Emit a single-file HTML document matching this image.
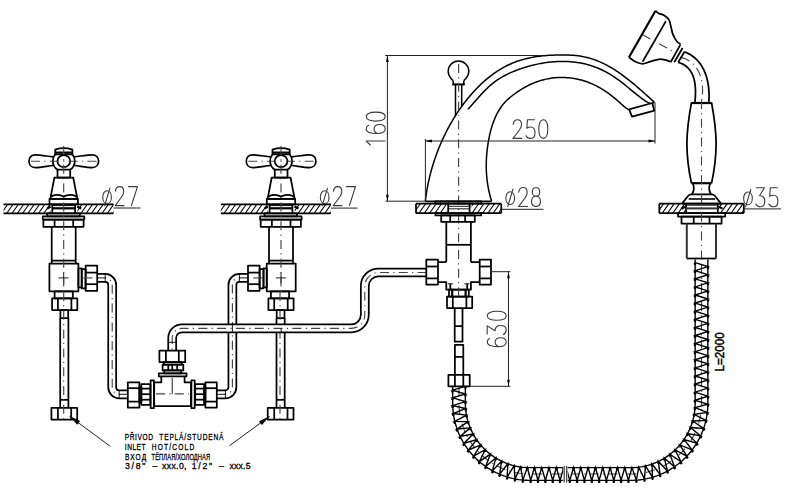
<!DOCTYPE html><html><head><meta charset="utf-8"><style>html,body{margin:0;padding:0;background:#fff}svg{display:block}</style></head><body><svg width="800" height="503" viewBox="0 0 800 503">
<style>.o{fill:none;stroke:#000;stroke-width:1.75;stroke-linejoin:round}.os{fill:none;stroke:#000;stroke-width:1.5}.gp{fill:none;stroke:#333;stroke-width:2}.ok{fill:none;stroke:#000;stroke-width:2.2}.t{fill:none;stroke:#000;stroke-width:0.9}.d{fill:none;stroke:#222;stroke-width:1}.h{fill:none;stroke:#000;stroke-width:1.1}.c{fill:none;stroke:#444;stroke-width:1.15;stroke-dasharray:9 4.3 1.2 4.3}.c2{fill:none;stroke:#333;stroke-width:0.9;stroke-dasharray:7 2.2 1.2 2.2}.g{fill:none;stroke:#3a3a3a;stroke-width:1.1;vector-effect:non-scaling-stroke;stroke-linecap:round;stroke-linejoin:round}.ar{fill:#000;stroke:none}.sp{fill:none;stroke:#000;stroke-width:1.4}.nt{font-family:"Liberation Sans",sans-serif;font-size:8.7px;fill:#000;stroke:#000;stroke-width:0.3}.lt{font-family:"Liberation Sans",sans-serif;font-size:13.5px;fill:#000;stroke:#000;stroke-width:0.5}</style>
<rect width="800" height="503" fill="#fff"/>
<path d="M97.2,277.9 H105.2 A7,7 0 0 1 112.2,284.9 V387.3 A7,7 0 0 0 119.2,394.3 H127.8" fill="none" stroke="#000" stroke-width="9.65"/>
<path d="M97.2,277.9 H105.2 A7,7 0 0 1 112.2,284.9 V387.3 A7,7 0 0 0 119.2,394.3 H127.8" fill="none" stroke="#fff" stroke-width="6.15"/>
<path class="c" d="M97.2,277.9 H105.2 A7,7 0 0 1 112.2,284.9 V387.3 A7,7 0 0 0 119.2,394.3 H127.8"/>
<path d="M247.8,277.9 H239.4 A7,7 0 0 0 232.4,284.9 V387.3 A7,7 0 0 1 225.4,394.3 H216.8" fill="none" stroke="#000" stroke-width="9.65"/>
<path d="M247.8,277.9 H239.4 A7,7 0 0 0 232.4,284.9 V387.3 A7,7 0 0 1 225.4,394.3 H216.8" fill="none" stroke="#fff" stroke-width="6.15"/>
<path class="c" d="M247.8,277.9 H239.4 A7,7 0 0 0 232.4,284.9 V387.3 A7,7 0 0 1 225.4,394.3 H216.8"/>
<g transform="translate(0,0)">
<path class="o" d="M53.2,156.9 C46,156 40,154.8 35.3,154.8 C31.4,154.8 29,157.6 29,161.2 C29,164.8 31.4,167.6 35.3,167.6 C40,167.6 46,166.4 53.2,165.5"/>
<path class="o" d="M74.2,156.9 C81.4,156 87.4,154.8 92.1,154.8 C96,154.8 98.6,157.6 98.6,161.2 C98.6,164.8 96,167.6 92.1,167.6 C87.4,167.6 81.4,166.4 74.2,165.5"/>
<path class="o" d="M55.3,154.2 C53.6,156.2 52.8,158.5 52.8,161 C52.8,164.6 54.6,167.8 57.5,169.7 M70.2,169.7 C73,167.8 74.8,164.6 74.8,161 C74.8,158.5 74,156.2 72.3,154.2"/>
<ellipse class="o" cx="63.8" cy="161.1" rx="6.4" ry="6"/>
<path class="o" d="M55.2,154.3 L55.2,149.6 C58,148.7 61,148.2 63.8,148.2 C66.6,148.2 69.6,148.7 72.4,149.6 L72.4,154.3 Z"/>
<path class="ok" d="M55.2,152.6 L72.4,152.6"/>
<rect class="o" x="57.5" y="169.7" width="12.7" height="7.8"/>
<path class="o" d="M54.4,177.5 L73.2,177.5 L77.4,198.8 L50.3,198.8 Z"/>
<path class="o" d="M51,197 C53,194.2 60,194.2 63.7,196.5 C67.4,194.2 74.4,194.2 76.6,197"/>
<rect class="o" x="49.5" y="198.8" width="28.4" height="5.5"/>
<clipPath id="c1"><rect x="3.5" y="204.3" width="46.9" height="9"/><rect x="77.5" y="204.3" width="36" height="9"/></clipPath>
<path class="h" clip-path="url(#c1)" d="M-3.8,213.3 L2.5,204.3 M1.5,213.3 L7.8,204.3 M6.8,213.3 L13.1,204.3 M12.1,213.3 L18.4,204.3 M17.4,213.3 L23.7,204.3 M22.7,213.3 L29,204.3 M28,213.3 L34.3,204.3 M33.3,213.3 L39.6,204.3 M38.6,213.3 L44.9,204.3 M43.9,213.3 L50.2,204.3 M49.2,213.3 L55.5,204.3 M54.5,213.3 L60.8,204.3 M59.8,213.3 L66.1,204.3 M65.1,213.3 L71.4,204.3 M70.4,213.3 L76.7,204.3 M75.7,213.3 L82,204.3 M81,213.3 L87.3,204.3 M86.3,213.3 L92.6,204.3 M91.6,213.3 L97.9,204.3 M96.9,213.3 L103.2,204.3 M102.2,213.3 L108.5,204.3 M107.5,213.3 L113.8,204.3 M112.8,213.3 L119.1,204.3 "/>
<line class="o" x1="3.5" y1="204.3" x2="113.5" y2="204.3"/>
<line class="o" x1="3.5" y1="213.3" x2="113.5" y2="213.3"/>
<line class="o" x1="52.3" y1="204.3" x2="52.3" y2="213.3"/>
<line class="o" x1="75.1" y1="204.3" x2="75.1" y2="213.3"/>
<line class="t" x1="52.3" y1="205.6" x2="75.1" y2="205.6"/>
<line class="ok" x1="52.3" y1="208.3" x2="75.1" y2="208.3"/>
<line class="ok" x1="47.2" y1="208.6" x2="50.6" y2="206.6"/>
<line class="ok" x1="77.2" y1="206.4" x2="81.2" y2="208.4"/>
<rect class="o" x="47.2" y="213.3" width="32.6" height="3.1"/>
<rect class="o" x="42.8" y="216.4" width="41.5" height="3.2"/>
<rect class="o" x="43.4" y="219.6" width="40.2" height="7.2"/>
<line class="o" x1="54.6" y1="219.6" x2="54.6" y2="226.8"/>
<line class="o" x1="73.2" y1="219.6" x2="73.2" y2="226.8"/>
<line class="o" x1="51.7" y1="226.8" x2="51.7" y2="263.6"/>
<line class="o" x1="75.7" y1="226.8" x2="75.7" y2="263.6"/>
<line class="o" x1="51.7" y1="260.6" x2="75.7" y2="260.6"/>
<rect class="o" x="49.4" y="263.6" width="29" height="27.7"/>
<line class="t" x1="58.5" y1="277.9" x2="68.5" y2="277.9"/>
<line class="t" x1="63.7" y1="272.5" x2="63.7" y2="283.5"/>
<g transform="translate(0,0)">
<rect class="o" x="54.6" y="291.3" width="18.2" height="7.1"/>
<rect class="o" x="52.1" y="298.4" width="25.2" height="11.6"/>
<line class="o" x1="57.9" y1="298.4" x2="57.9" y2="310"/>
<line class="o" x1="71.4" y1="298.4" x2="71.4" y2="310"/>
<rect class="o" x="60.4" y="310" width="7.8" height="8"/>
<line class="o" x1="60.2" y1="318" x2="60.2" y2="407.9"/>
<line class="o" x1="68.4" y1="318" x2="68.4" y2="407.9"/>
<line class="o" x1="60.2" y1="399.8" x2="68.4" y2="399.8"/>
<rect class="o" x="51.4" y="407.9" width="25.8" height="11.6"/>
<line class="o" x1="57.9" y1="407.9" x2="57.9" y2="419.5"/>
<line class="o" x1="71.2" y1="407.9" x2="71.2" y2="419.5"/>
<line class="c" x1="63.7" y1="292" x2="63.7" y2="421"/>
</g>
<line class="c" x1="63.7" y1="146" x2="63.7" y2="292"/>
<line class="c" x1="31" y1="161.2" x2="97" y2="161.2"/>
</g>
<g transform="translate(217.3,0)">
<path class="o" d="M53.2,156.9 C46,156 40,154.8 35.3,154.8 C31.4,154.8 29,157.6 29,161.2 C29,164.8 31.4,167.6 35.3,167.6 C40,167.6 46,166.4 53.2,165.5"/>
<path class="o" d="M74.2,156.9 C81.4,156 87.4,154.8 92.1,154.8 C96,154.8 98.6,157.6 98.6,161.2 C98.6,164.8 96,167.6 92.1,167.6 C87.4,167.6 81.4,166.4 74.2,165.5"/>
<path class="o" d="M55.3,154.2 C53.6,156.2 52.8,158.5 52.8,161 C52.8,164.6 54.6,167.8 57.5,169.7 M70.2,169.7 C73,167.8 74.8,164.6 74.8,161 C74.8,158.5 74,156.2 72.3,154.2"/>
<ellipse class="o" cx="63.8" cy="161.1" rx="6.4" ry="6"/>
<path class="o" d="M55.2,154.3 L55.2,149.6 C58,148.7 61,148.2 63.8,148.2 C66.6,148.2 69.6,148.7 72.4,149.6 L72.4,154.3 Z"/>
<path class="ok" d="M55.2,152.6 L72.4,152.6"/>
<rect class="o" x="57.5" y="169.7" width="12.7" height="7.8"/>
<path class="o" d="M54.4,177.5 L73.2,177.5 L77.4,198.8 L50.3,198.8 Z"/>
<path class="o" d="M51,197 C53,194.2 60,194.2 63.7,196.5 C67.4,194.2 74.4,194.2 76.6,197"/>
<rect class="o" x="49.5" y="198.8" width="28.4" height="5.5"/>
<clipPath id="c2"><rect x="3.5" y="204.3" width="46.9" height="9"/><rect x="77.5" y="204.3" width="36" height="9"/></clipPath>
<path class="h" clip-path="url(#c2)" d="M-3.8,213.3 L2.5,204.3 M1.5,213.3 L7.8,204.3 M6.8,213.3 L13.1,204.3 M12.1,213.3 L18.4,204.3 M17.4,213.3 L23.7,204.3 M22.7,213.3 L29,204.3 M28,213.3 L34.3,204.3 M33.3,213.3 L39.6,204.3 M38.6,213.3 L44.9,204.3 M43.9,213.3 L50.2,204.3 M49.2,213.3 L55.5,204.3 M54.5,213.3 L60.8,204.3 M59.8,213.3 L66.1,204.3 M65.1,213.3 L71.4,204.3 M70.4,213.3 L76.7,204.3 M75.7,213.3 L82,204.3 M81,213.3 L87.3,204.3 M86.3,213.3 L92.6,204.3 M91.6,213.3 L97.9,204.3 M96.9,213.3 L103.2,204.3 M102.2,213.3 L108.5,204.3 M107.5,213.3 L113.8,204.3 M112.8,213.3 L119.1,204.3 "/>
<line class="o" x1="3.5" y1="204.3" x2="113.5" y2="204.3"/>
<line class="o" x1="3.5" y1="213.3" x2="113.5" y2="213.3"/>
<line class="o" x1="52.3" y1="204.3" x2="52.3" y2="213.3"/>
<line class="o" x1="75.1" y1="204.3" x2="75.1" y2="213.3"/>
<line class="t" x1="52.3" y1="205.6" x2="75.1" y2="205.6"/>
<line class="ok" x1="52.3" y1="208.3" x2="75.1" y2="208.3"/>
<line class="ok" x1="47.2" y1="208.6" x2="50.6" y2="206.6"/>
<line class="ok" x1="77.2" y1="206.4" x2="81.2" y2="208.4"/>
<rect class="o" x="47.2" y="213.3" width="32.6" height="3.1"/>
<rect class="o" x="42.8" y="216.4" width="41.5" height="3.2"/>
<rect class="o" x="43.4" y="219.6" width="40.2" height="7.2"/>
<line class="o" x1="54.6" y1="219.6" x2="54.6" y2="226.8"/>
<line class="o" x1="73.2" y1="219.6" x2="73.2" y2="226.8"/>
<line class="o" x1="51.7" y1="226.8" x2="51.7" y2="263.6"/>
<line class="o" x1="75.7" y1="226.8" x2="75.7" y2="263.6"/>
<line class="o" x1="51.7" y1="260.6" x2="75.7" y2="260.6"/>
<rect class="o" x="49.4" y="263.6" width="29" height="27.7"/>
<line class="t" x1="58.5" y1="277.9" x2="68.5" y2="277.9"/>
<line class="t" x1="63.7" y1="272.5" x2="63.7" y2="283.5"/>
<g transform="translate(-1,0)">
<rect class="o" x="54.6" y="291.3" width="18.2" height="7.1"/>
<rect class="o" x="52.1" y="298.4" width="25.2" height="11.6"/>
<line class="o" x1="57.9" y1="298.4" x2="57.9" y2="310"/>
<line class="o" x1="71.4" y1="298.4" x2="71.4" y2="310"/>
<rect class="o" x="60.4" y="310" width="7.8" height="8"/>
<line class="o" x1="60.2" y1="318" x2="60.2" y2="407.9"/>
<line class="o" x1="68.4" y1="318" x2="68.4" y2="407.9"/>
<line class="o" x1="60.2" y1="399.8" x2="68.4" y2="399.8"/>
<rect class="o" x="51.4" y="407.9" width="25.8" height="11.6"/>
<line class="o" x1="57.9" y1="407.9" x2="57.9" y2="419.5"/>
<line class="o" x1="71.2" y1="407.9" x2="71.2" y2="419.5"/>
<line class="c" x1="63.7" y1="292" x2="63.7" y2="421"/>
</g>
<line class="c" x1="63.7" y1="146" x2="63.7" y2="292"/>
<line class="c" x1="31" y1="161.2" x2="97" y2="161.2"/>
</g>
<path d="M426.6,272.5 H378.3 A13.5,13.5 0 0 0 364.8,286 V314.8 A13.5,13.5 0 0 1 351.3,328.3 H181.9 A9.7,9.7 0 0 0 172.2,338 V351" fill="none" stroke="#000" stroke-width="9.65"/>
<path d="M426.6,272.5 H378.3 A13.5,13.5 0 0 0 364.8,286 V314.8 A13.5,13.5 0 0 1 351.3,328.3 H181.9 A9.7,9.7 0 0 0 172.2,338 V351" fill="none" stroke="#fff" stroke-width="6.15"/>
<path class="c" d="M426.6,272.5 H378.3 A13.5,13.5 0 0 0 364.8,286 V314.8 A13.5,13.5 0 0 1 351.3,328.3 H181.9 A9.7,9.7 0 0 0 172.2,338 V351"/>
<line class="t" x1="105.2" y1="273.9" x2="105.2" y2="281.9"/>
<line class="t" x1="119.2" y1="390.3" x2="119.2" y2="398.3"/>
<line class="t" x1="239.4" y1="273.9" x2="239.4" y2="281.9"/>
<line class="t" x1="225.4" y1="390.3" x2="225.4" y2="398.3"/>
<line class="t" x1="168.2" y1="342.3" x2="176.2" y2="342.3"/>
<line class="t" x1="232.4" y1="324.3" x2="232.4" y2="332.3"/>
<line class="t" x1="281.2" y1="328.3" x2="281.2" y2="332.3"/>
<g transform="translate(78.4,0)">
<rect class="o" x="0" y="268.3" width="3.3" height="19.1"/>
<rect class="o" x="3.3" y="269.2" width="3.9" height="19.1"/>
<rect class="o" x="7.2" y="265.6" width="11.6" height="25.2"/>
<line class="o" x1="7.2" y1="272.6" x2="18.8" y2="272.6"/>
<line class="o" x1="7.2" y1="284.2" x2="18.8" y2="284.2"/>
<line class="c" x1="5" y1="277.9" x2="18" y2="277.9"/>
</g>
<g transform="translate(345.2,0) scale(-1,1)">
<rect class="o" x="78.4" y="268.3" width="3.3" height="19.1"/>
<rect class="o" x="81.7" y="269.2" width="3.9" height="19.1"/>
<rect class="o" x="85.6" y="265.6" width="11.6" height="25.2"/>
<line class="o" x1="85.6" y1="272.6" x2="97.2" y2="272.6"/>
<line class="o" x1="85.6" y1="284.2" x2="97.2" y2="284.2"/>
<line class="c" x1="83" y1="277.9" x2="96" y2="277.9"/>
</g>
<rect class="o" x="159.4" y="350.6" width="25.8" height="11.4"/>
<line class="o" x1="165.9" y1="350.6" x2="165.9" y2="362"/>
<line class="o" x1="178.8" y1="350.6" x2="178.8" y2="362"/>
<rect class="o" x="163.8" y="362" width="18" height="2.5"/>
<rect class="o" x="162.6" y="364.5" width="20.7" height="5.9"/>
<line class="o" x1="168.3" y1="364.5" x2="168.3" y2="370.4"/>
<line class="o" x1="172.2" y1="364.5" x2="172.2" y2="370.4"/>
<line class="o" x1="177.2" y1="364.5" x2="177.2" y2="370.4"/>
<rect class="o" x="164.3" y="370.4" width="17" height="2.9"/>
<rect class="o" x="158.8" y="373.3" width="27.7" height="3.1"/>
<path class="o" d="M161.3,376.4 V382.4 H154.2 V406.2 H191 V382.4 H184.6 V376.4"/>
<line class="c" x1="156" y1="393.9" x2="189" y2="393.9"/>
<line class="t" x1="172.2" y1="378" x2="172.2" y2="394"/>
<rect class="o" x="150.6" y="380.3" width="3.3" height="27.8"/>
<rect class="o" x="141.3" y="384.2" width="9.1" height="20.7"/>
<line class="o" x1="141.3" y1="388.6" x2="150.4" y2="388.6"/>
<line class="o" x1="141.3" y1="394.2" x2="150.4" y2="394.2"/>
<line class="o" x1="141.3" y1="399.7" x2="150.4" y2="399.7"/>
<rect class="o" x="139.4" y="386.5" width="1.9" height="16"/>
<rect class="o" x="127.8" y="382.3" width="11.6" height="25.2"/>
<line class="o" x1="127.8" y1="388.2" x2="139.4" y2="388.2"/>
<line class="o" x1="127.8" y1="401.6" x2="139.4" y2="401.6"/>
<rect class="o" x="191.4" y="380.3" width="3.3" height="27.8"/>
<rect class="o" x="195.2" y="384.2" width="9" height="20.7"/>
<line class="o" x1="195.2" y1="388.6" x2="204.2" y2="388.6"/>
<line class="o" x1="195.2" y1="394.2" x2="204.2" y2="394.2"/>
<line class="o" x1="195.2" y1="399.7" x2="204.2" y2="399.7"/>
<rect class="o" x="204.2" y="386.5" width="1.2" height="16"/>
<rect class="o" x="205.4" y="382.3" width="11.4" height="25.2"/>
<line class="o" x1="205.4" y1="388.2" x2="216.8" y2="388.2"/>
<line class="o" x1="205.4" y1="401.6" x2="216.8" y2="401.6"/>
<path class="os" d="M425.35,201.31 L425.49,200.12 L425.63,198.92 L425.79,197.72 L425.95,196.52 L426.11,195.33 L426.29,194.13 L426.47,192.94 L426.66,191.75 L426.86,190.56 L427.06,189.37 L427.27,188.18 L427.49,187 L427.72,185.81 L427.95,184.63 L428.19,183.45 L428.43,182.27 L428.69,181.09 L428.95,179.91 L429.21,178.74 L429.49,177.56 L429.77,176.39 L430.06,175.22 L430.35,174.05 L430.66,172.89 L430.97,171.72 L431.28,170.56 L431.6,169.4 L431.93,168.24 L432.27,167.08 L432.61,165.93 L432.96,164.78 L433.32,163.63 L433.68,162.48 L434.05,161.33 L434.43,160.19 L434.81,159.05 L435.2,157.91 L435.6,156.77 L436.01,155.63 L436.42,154.5 L436.83,153.37 L437.26,152.25 L437.69,151.12 L438.12,150 L438.56,148.88 L439.01,147.76 L439.47,146.65 L439.93,145.54 L440.4,144.43 L440.88,143.32 L441.36,142.22 L441.85,141.12 L442.34,140.02 L442.84,138.92 L443.35,137.83 L443.86,136.74 L444.38,135.66 L444.91,134.57 L445.44,133.49 L445.98,132.42 L446.52,131.35 L447.07,130.27 L447.63,129.21 L448.2,128.14 L448.76,127.08 L449.34,126.03 L449.92,124.97 L450.51,123.92 L451.11,122.88 L451.71,121.84 L452.31,120.8 L452.93,119.76 L453.55,118.73 L454.18,117.7 L454.81,116.68 L455.45,115.66 L456.1,114.65 L456.75,113.64 L457.41,112.63 L458.08,111.63 L458.75,110.63 L459.43,109.64 L460.12,108.65 L460.81,107.66 L461.51,106.68 L462.22,105.71 L462.93,104.74 L463.65,103.77 L464.38,102.81 L465.11,101.86 L465.85,100.91 L466.6,99.96 L467.36,99.02 L468.12,98.08 L468.89,97.15 L469.67,96.23 L470.45,95.31 L471.24,94.4 L472.04,93.49 L472.85,92.59 L473.66,91.69 L474.48,90.8 L475.3,89.91 L476.14,89.04 L476.98,88.16 L477.83,87.3 L478.68,86.44 L479.55,85.59 L480.42,84.75 L481.3,83.92 L482.18,83.09 L483.07,82.28 L483.97,81.47 L484.88,80.67 L485.79,79.88 L486.71,79.1 L487.64,78.32 L488.57,77.56 L489.52,76.81 L490.47,76.07 L491.42,75.34 L492.39,74.62 L493.36,73.91 L494.34,73.21 L495.32,72.52 L496.31,71.85 L497.31,71.18 L498.32,70.53 L499.34,69.9 L500.36,69.27 L501.39,68.66 L502.42,68.06 L503.47,67.47 L504.52,66.9 L505.58,66.34 L506.64,65.79 L507.71,65.26 L508.79,64.74 L509.88,64.24 L510.97,63.75 L512.07,63.28 L513.18,62.82 L514.3,62.38 L515.42,61.96 L516.55,61.54 L517.68,61.15 L518.82,60.76 L519.97,60.39 L521.12,60.04 L522.28,59.7 L523.44,59.37 L524.6,59.06 L525.77,58.76 L526.94,58.47 L528.12,58.2 L529.3,57.94 L530.49,57.69 L531.67,57.45 L532.86,57.23 L534.06,57.02 L535.25,56.82 L536.45,56.63 L537.65,56.45 L538.85,56.29 L540.05,56.14 L541.25,55.99 L542.45,55.86 L543.65,55.74 L544.86,55.63 L546.06,55.54 L547.26,55.45 L548.47,55.37 L549.67,55.3 L550.87,55.24 L552.07,55.18 L553.28,55.14 L554.48,55.1 L555.69,55.06 L556.89,55.04 L558.1,55.02 L559.3,55 L560.51,54.99 L561.72,54.98 L562.93,54.98 L564.13,54.98 L565.34,54.99 L566.55,55.01 L567.76,55.04 L568.97,55.08 L570.17,55.13 L571.38,55.19 L572.58,55.27 L573.79,55.35 L574.99,55.46 L576.19,55.57 L577.38,55.71 L578.58,55.86 L579.77,56.03 L580.96,56.21 L582.14,56.42 L583.32,56.65 L584.5,56.89 L585.68,57.15 L586.85,57.43 L588.01,57.73 L589.17,58.05 L590.32,58.38 L591.47,58.73 L592.61,59.1 L593.75,59.48 L594.88,59.88 L596,60.29 L597.11,60.72 L598.22,61.17 L599.33,61.63 L600.42,62.11 L601.51,62.6 L602.6,63.1 L603.68,63.62 L604.75,64.15 L605.82,64.69 L606.88,65.25 L607.94,65.82 L608.99,66.4 L610.03,66.99 L611.07,67.6 L612.11,68.21 L613.13,68.84 L614.16,69.47 L615.18,70.12 L616.19,70.78 L617.2,71.44 L618.2,72.12 L619.2,72.8 L620.19,73.5 L621.18,74.2 L622.17,74.9 L623.15,75.62 L624.12,76.34 L625.09,77.08 L626.06,77.81 L627.02,78.56 L627.98,79.31 L628.94,80.06 L629.89,80.82 L630.83,81.59 L631.78,82.36 L632.71,83.13 L633.65,83.91 L634.58,84.69 L635.51,85.48 L636.43,86.27 L637.35,87.06 L638.27,87.85 L639.18,88.65 L640.09,89.45 L641,90.25 L641.91,91.05 L642.81,91.85 L643.71,92.65 L644.6,93.46 L645.5,94.26 L646.39,95.06 L647.27,95.86 L648.16,96.66 L649.04,97.46 L649.92,98.26 L650.8,99.05 L651.67,99.85 L652.55,100.64 L653.42,101.43 L654.29,102.21"/>
<path class="os" d="M467.91,109.31 L468.73,108.42 L469.54,107.53 L470.35,106.63 L471.16,105.72 L471.97,104.81 L472.77,103.9 L473.57,102.99 L474.38,102.07 L475.18,101.16 L475.98,100.24 L476.79,99.32 L477.59,98.41 L478.4,97.5 L479.21,96.59 L480.02,95.69 L480.84,94.79 L481.67,93.89 L482.49,93 L483.33,92.12 L484.17,91.25 L485.02,90.38 L485.87,89.53 L486.73,88.68 L487.61,87.84 L488.49,87.02 L489.38,86.21 L490.28,85.41 L491.2,84.62 L492.12,83.85 L493.06,83.1 L494.01,82.36 L494.97,81.64 L495.95,80.93 L496.94,80.24 L497.94,79.57 L498.96,78.91 L499.98,78.27 L501.02,77.64 L502.06,77.03 L503.12,76.43 L504.19,75.85 L505.26,75.28 L506.35,74.72 L507.44,74.18 L508.54,73.65 L509.65,73.14 L510.76,72.64 L511.88,72.15 L513.01,71.67 L514.14,71.2 L515.28,70.75 L516.42,70.31 L517.57,69.88 L518.72,69.46 L519.87,69.05 L521.03,68.65 L522.19,68.26 L523.35,67.88 L524.52,67.51 L525.68,67.16 L526.85,66.81 L528.02,66.47 L529.19,66.14 L530.36,65.82 L531.53,65.51 L532.71,65.21 L533.88,64.92 L535.06,64.64 L536.24,64.37 L537.42,64.11 L538.6,63.87 L539.79,63.63 L540.97,63.41 L542.16,63.2 L543.35,62.99 L544.54,62.8 L545.73,62.63 L546.92,62.46 L548.12,62.3 L549.32,62.16 L550.51,62.03 L551.72,61.91 L552.92,61.81 L554.12,61.71 L555.33,61.63 L556.54,61.56 L557.75,61.51 L558.96,61.46 L560.17,61.43 L561.39,61.42 L562.6,61.41 L563.82,61.42 L565.04,61.45 L566.26,61.49 L567.48,61.54 L568.69,61.6 L569.91,61.68 L571.13,61.78 L572.35,61.89 L573.56,62.01 L574.78,62.15 L575.99,62.3 L577.2,62.47 L578.41,62.65 L579.61,62.85 L580.81,63.07 L582.01,63.3 L583.2,63.55 L584.39,63.81 L585.58,64.09 L586.76,64.38 L587.93,64.7 L589.1,65.02 L590.26,65.37 L591.42,65.73 L592.57,66.11 L593.72,66.51 L594.86,66.92 L595.99,67.35 L597.11,67.8 L598.23,68.26 L599.34,68.74 L600.45,69.24 L601.54,69.75 L602.63,70.27 L603.72,70.81 L604.8,71.37 L605.87,71.94 L606.93,72.52 L607.99,73.11 L609.04,73.72 L610.08,74.34 L611.12,74.97 L612.15,75.62 L613.17,76.28 L614.19,76.94 L615.2,77.62 L616.2,78.31 L617.2,79.02 L618.19,79.73 L619.17,80.45 L620.14,81.18 L621.11,81.92 L622.08,82.66 L623.04,83.42 L623.99,84.18 L624.94,84.94 L625.89,85.71 L626.83,86.48 L627.77,87.26 L628.71,88.03 L629.65,88.81 L630.59,89.59 L631.53,90.36 L632.46,91.14 L633.4,91.91 L634.34,92.68 L635.28,93.44 L636.22,94.2 L637.17,94.95 L638.12,95.69 L639.07,96.43 L640.03,97.16 L640.99,97.87 L641.96,98.58 L642.93,99.28 L643.91,99.96 L644.9,100.63 L645.89,101.28 L646.91,101.89 L647.97,102.44 L649.09,102.89 L650.27,103.22"/>
<path class="os" d="M491.57,200.9 L491.2,199.73 L490.85,198.55 L490.51,197.37 L490.18,196.19 L489.87,195.01 L489.57,193.83 L489.29,192.64 L489.02,191.46 L488.76,190.27 L488.51,189.08 L488.28,187.89 L488.06,186.7 L487.86,185.51 L487.67,184.32 L487.49,183.12 L487.32,181.93 L487.16,180.73 L487.02,179.53 L486.89,178.34 L486.78,177.14 L486.67,175.94 L486.58,174.74 L486.5,173.54 L486.43,172.34 L486.37,171.13 L486.32,169.93 L486.29,168.73 L486.27,167.52 L486.25,166.32 L486.25,165.12 L486.27,163.91 L486.29,162.71 L486.32,161.5 L486.36,160.3 L486.42,159.09 L486.48,157.89 L486.56,156.68 L486.65,155.48 L486.74,154.28 L486.85,153.07 L486.97,151.87 L487.09,150.66 L487.23,149.46 L487.38,148.26 L487.53,147.06 L487.7,145.85 L487.88,144.65 L488.06,143.45 L488.25,142.25 L488.46,141.05 L488.67,139.85 L488.89,138.66 L489.13,137.46 L489.37,136.27 L489.63,135.08 L489.89,133.89 L490.17,132.7 L490.47,131.52 L490.77,130.35 L491.09,129.17 L491.42,128.01 L491.77,126.84 L492.13,125.69 L492.5,124.54 L492.89,123.39 L493.3,122.25 L493.73,121.12 L494.17,120 L494.62,118.89 L495.1,117.78 L495.59,116.68 L496.1,115.59 L496.63,114.51 L497.18,113.44 L497.75,112.38 L498.34,111.33 L498.95,110.3 L499.59,109.27 L500.24,108.27 L500.92,107.27 L501.62,106.3 L502.34,105.33 L503.09,104.39 L503.86,103.47 L504.65,102.56 L505.48,101.68 L506.32,100.81 L507.19,99.97 L508.08,99.14 L508.99,98.34 L509.92,97.54 L510.86,96.77 L511.82,96.01 L512.79,95.26 L513.76,94.52 L514.74,93.8 L515.73,93.08 L516.72,92.38 L517.73,91.7 L518.73,91.02 L519.75,90.36 L520.77,89.71 L521.8,89.08 L522.84,88.46 L523.88,87.85 L524.93,87.26 L525.99,86.68 L527.05,86.12 L528.12,85.57 L529.2,85.04 L530.28,84.52 L531.37,84.02 L532.47,83.54 L533.57,83.07 L534.68,82.62 L535.8,82.19 L536.93,81.77 L538.06,81.37 L539.2,81 L540.34,80.63 L541.5,80.29 L542.66,79.97 L543.82,79.66 L545,79.38 L546.18,79.12 L547.36,78.87 L548.56,78.65 L549.75,78.44 L550.96,78.25 L552.17,78.09 L553.38,77.94 L554.59,77.82 L555.81,77.71 L557.03,77.62 L558.26,77.55 L559.48,77.51 L560.71,77.48 L561.93,77.47 L563.16,77.48 L564.39,77.51 L565.61,77.57 L566.84,77.64 L568.06,77.73 L569.28,77.84 L570.5,77.97 L571.71,78.12 L572.92,78.28 L574.13,78.47 L575.33,78.68 L576.53,78.91 L577.72,79.16 L578.9,79.42 L580.08,79.71 L581.25,80.02 L582.41,80.34 L583.57,80.69 L584.72,81.05 L585.86,81.43 L587,81.83 L588.13,82.25 L589.25,82.69 L590.36,83.14 L591.47,83.61 L592.57,84.09 L593.66,84.6 L594.75,85.11 L595.82,85.65 L596.89,86.2 L597.96,86.76 L599.01,87.34 L600.06,87.93 L601.1,88.54 L602.14,89.16 L603.16,89.79 L604.18,90.44 L605.19,91.1 L606.2,91.77 L607.19,92.46 L608.18,93.16 L609.16,93.86 L610.14,94.58 L611.11,95.31 L612.06,96.06 L613.02,96.81 L613.96,97.57 L614.9,98.34 L615.82,99.12 L616.75,99.91 L617.66,100.71 L618.57,101.52 L619.46,102.33 L620.36,103.15 L621.25,103.96 L622.15,104.77 L623.06,105.56 L623.98,106.33 L624.92,107.07 L625.88,107.77 L626.87,108.44 L627.88,109.06 L628.94,109.62"/>
<path class="o" d="M629.1,109.4 L652.3,103 L654.3,102.3 M629.1,109.4 L632,116.6 L654.3,110.7 L652.3,103"/>
<path class="os" d="M453.2,84.4 L453.2,81.6 Q453.2,79.9 451.2,78.6 A10.3,10.3 0 1 1 465.8,78.6 Q463.8,79.9 463.8,81.6 L463.8,84.4 Z"/>
<line class="o" x1="452.4" y1="84.4" x2="464.8" y2="84.4"/>
<line class="os" x1="455.5" y1="84.4" x2="455.5" y2="116.5"/>
<line class="os" x1="461.7" y1="84.4" x2="461.7" y2="106.5"/>
<line class="c" x1="458.6" y1="64" x2="458.6" y2="243"/>
<line class="o" x1="425.4" y1="201.3" x2="491.7" y2="201.3"/>
<rect class="o" x="435.4" y="201.3" width="45.8" height="2.4"/>
<clipPath id="c3"><rect x="416" y="203.7" width="30.3" height="9.5"/><rect x="471.5" y="203.7" width="29.8" height="9.5"/></clipPath>
<path class="h" clip-path="url(#c3)" d="M408.35,213.2 L415,203.7 M413.65,213.2 L420.3,203.7 M418.95,213.2 L425.6,203.7 M424.25,213.2 L430.9,203.7 M429.55,213.2 L436.2,203.7 M434.85,213.2 L441.5,203.7 M440.15,213.2 L446.8,203.7 M445.45,213.2 L452.1,203.7 M450.75,213.2 L457.4,203.7 M456.05,213.2 L462.7,203.7 M461.35,213.2 L468,203.7 M466.65,213.2 L473.3,203.7 M471.95,213.2 L478.6,203.7 M477.25,213.2 L483.9,203.7 M482.55,213.2 L489.2,203.7 M487.85,213.2 L494.5,203.7 M493.15,213.2 L499.8,203.7 M498.45,213.2 L505.1,203.7 "/>
<line class="o" x1="416" y1="203.7" x2="501.3" y2="203.7"/>
<line class="o" x1="416" y1="213.2" x2="501.3" y2="213.2"/>
<line class="o" x1="416" y1="203.7" x2="416" y2="213.2"/>
<line class="o" x1="501.3" y1="203.7" x2="501.3" y2="213.2"/>
<line class="o" x1="448.2" y1="203.7" x2="448.2" y2="213.2"/>
<line class="o" x1="469.6" y1="203.7" x2="469.6" y2="213.2"/>
<line class="t" x1="448.2" y1="206.3" x2="469.6" y2="206.3"/>
<line class="t" x1="448.2" y1="208.8" x2="469.6" y2="208.8"/>
<rect class="o" x="435.4" y="213.2" width="45.8" height="2.2"/>
<rect class="o" x="441.2" y="215.4" width="33.6" height="6.4"/>
<line class="o" x1="450.2" y1="215.4" x2="450.2" y2="221.8"/>
<line class="o" x1="465.1" y1="215.4" x2="465.1" y2="221.8"/>
<line class="o" x1="446.3" y1="221.8" x2="446.3" y2="262"/>
<line class="o" x1="470.9" y1="221.8" x2="470.9" y2="262"/>
<line class="o" x1="446.3" y1="244.8" x2="470.9" y2="244.8"/>
<path class="o" d="M446.3,262 H438 M470.9,262 H479.7 M438,282 H446.3 V289.7 H470.9 V282 H479.7"/>
<rect class="o" x="426.3" y="259.6" width="11.7" height="25"/>
<line class="o" x1="426.3" y1="266.5" x2="438" y2="266.5"/>
<line class="o" x1="426.3" y1="278.4" x2="438" y2="278.4"/>
<rect class="o" x="479.7" y="259.6" width="11.3" height="25"/>
<line class="o" x1="479.7" y1="266.5" x2="491" y2="266.5"/>
<line class="o" x1="479.7" y1="278.4" x2="491" y2="278.4"/>
<line class="o" x1="450.3" y1="283.8" x2="450.3" y2="289.7"/>
<line class="o" x1="467.2" y1="283.8" x2="467.2" y2="289.7"/>
<line class="t" x1="448" y1="283.8" x2="453" y2="283.8"/>
<line class="t" x1="464.5" y1="283.8" x2="469.5" y2="283.8"/>
<rect class="o" x="449" y="289.7" width="19.8" height="6.9"/>
<line class="ok" x1="452.2" y1="289.7" x2="452.2" y2="296.6"/>
<line class="ok" x1="465.6" y1="289.7" x2="465.6" y2="296.6"/>
<rect class="o" x="447" y="296.6" width="25.2" height="11.5"/>
<line class="o" x1="452.8" y1="296.6" x2="452.8" y2="308.1"/>
<line class="o" x1="466.4" y1="296.6" x2="466.4" y2="308.1"/>
<line class="c" x1="458.6" y1="250" x2="458.6" y2="300"/>
<path class="o" d="M454.7,308.1 V341.7 H462.5 V308.1 M454.7,326.2 H462.5 M454.9,374.9 V344.9 H463.3 V374.9 M454.9,356.8 H463.3"/>
<rect class="o" x="448.4" y="374.9" width="21.3" height="11.4"/>
<line class="o" x1="454.9" y1="374.9" x2="454.9" y2="386.3"/>
<line class="o" x1="463.3" y1="374.9" x2="463.3" y2="386.3"/>
<clipPath id="c4"><rect x="659.3" y="203.6" width="25.8" height="9.6"/><rect x="717.3" y="203.6" width="26.5" height="9.6"/></clipPath>
<path class="h" clip-path="url(#c4)" d="M651.58,213.2 L658.3,203.6 M656.88,213.2 L663.6,203.6 M662.18,213.2 L668.9,203.6 M667.48,213.2 L674.2,203.6 M672.78,213.2 L679.5,203.6 M678.08,213.2 L684.8,203.6 M683.38,213.2 L690.1,203.6 M688.68,213.2 L695.4,203.6 M693.98,213.2 L700.7,203.6 M699.28,213.2 L706,203.6 M704.58,213.2 L711.3,203.6 M709.88,213.2 L716.6,203.6 M715.18,213.2 L721.9,203.6 M720.48,213.2 L727.2,203.6 M725.78,213.2 L732.5,203.6 M731.08,213.2 L737.8,203.6 M736.38,213.2 L743.1,203.6 M741.68,213.2 L748.4,203.6 "/>
<line class="o" x1="659.3" y1="203.6" x2="743.8" y2="203.6"/>
<line class="o" x1="659.3" y1="213.2" x2="743.8" y2="213.2"/>
<line class="o" x1="659.3" y1="203.6" x2="659.3" y2="213.2"/>
<line class="o" x1="743.8" y1="203.6" x2="743.8" y2="213.2"/>
<line class="o" x1="686" y1="203.6" x2="686" y2="213.2"/>
<line class="o" x1="717.8" y1="203.6" x2="717.8" y2="213.2"/>
<line class="t" x1="686" y1="205.2" x2="717.8" y2="205.2"/>
<line class="gp" x1="686" y1="208.4" x2="717.8" y2="208.4"/>
<line class="ok" x1="681.5" y1="208.8" x2="685" y2="206.8"/>
<line class="ok" x1="718.8" y1="206.6" x2="722.5" y2="208.6"/>
<path class="o" d="M682.2,203.4 L688,196 Q689.4,194.4 691.5,194.4 H711.5 Q713.6,194.4 715,196 L720.8,203.4"/>
<path class="o" d="M692.8,183.5 C694.2,186.5 694.2,190.5 692,194.3 M710.2,183.5 C708.8,186.5 708.8,190.5 711,194.3"/>
<line class="o" x1="682.2" y1="203.6" x2="720.8" y2="203.6"/>
<line class="gp" x1="688.7" y1="199" x2="715.1" y2="199"/>
<path class="o" d="M691.5,102.4 C688.6,118 686.9,133 686.9,143.7 C686.9,156 688.6,170 691.5,183.4 M711.5,102.4 C714.4,118 716.1,133 716.1,143.7 C716.1,156 714.4,170 711.5,183.4"/>
<line class="ok" x1="691.5" y1="103" x2="711.5" y2="103"/>
<line class="ok" x1="691.5" y1="183.2" x2="711.5" y2="183.2"/>
<rect class="o" x="678" y="213.2" width="47.2" height="3.3"/>
<rect class="o" x="681.5" y="216.5" width="40.1" height="7"/>
<line class="o" x1="693.7" y1="216.5" x2="693.7" y2="223.5"/>
<line class="o" x1="709.5" y1="216.5" x2="709.5" y2="223.5"/>
<line class="o" x1="686.8" y1="258.5" x2="716" y2="258.5"/>
<line class="gp" x1="686.8" y1="223.5" x2="686.8" y2="258.5"/>
<line class="gp" x1="716" y1="223.5" x2="716" y2="258.5"/>
<line class="c" x1="701.5" y1="100" x2="701.5" y2="258"/>
<path class="o" d="M684.35,51.82 L685.6,52.3 L686.82,52.82 L688,53.38 L689.15,53.98 L690.25,54.61 L691.32,55.28 L692.35,55.98 L693.35,56.71 L694.31,57.48 L695.23,58.27 L696.12,59.1 L696.98,59.95 L697.8,60.83 L698.59,61.74 L699.35,62.68 L700.08,63.64 L700.77,64.62 L701.43,65.62 L702.06,66.65 L702.66,67.7 L703.23,68.76 L703.77,69.85 L704.28,70.95 L704.76,72.07 L705.22,73.2 L705.64,74.35 L706.04,75.51 L706.41,76.68 L706.76,77.87 L707.07,79.07 L707.37,80.27 L707.64,81.48 L707.88,82.7 L708.1,83.93 L708.29,85.16 L708.46,86.4 L708.61,87.64 L708.74,88.88 L708.84,90.12 L708.93,91.36 L708.99,92.6 L709.03,93.84 L709.05,95.08 L709.05,96.31 L709.03,97.54 L708.99,98.76 L708.94,99.98 L708.86,101.18 L708.77,102.38"/>
<path class="o" d="M678.03,62.31 L679.43,62.73 L680.76,63.21 L682.02,63.75 L683.21,64.35 L684.33,65 L685.39,65.71 L686.38,66.46 L687.31,67.27 L688.17,68.11 L688.98,69.01 L689.73,69.94 L690.43,70.92 L691.07,71.93 L691.66,72.97 L692.2,74.05 L692.69,75.15 L693.13,76.29 L693.53,77.45 L693.89,78.63 L694.2,79.83 L694.48,81.05 L694.72,82.29 L694.92,83.54 L695.09,84.8 L695.22,86.07 L695.33,87.35 L695.41,88.63 L695.46,89.92 L695.49,91.2 L695.49,92.49 L695.47,93.76 L695.43,95.04 L695.38,96.3 L695.31,97.55 L695.22,98.79 L695.12,100.01 L695.01,101.21 L694.9,102.4"/>
<path class="c" d="M681.32,57.52 L682.67,57.9 L683.97,58.33 L685.22,58.81 L686.41,59.34 L687.56,59.92 L688.66,60.55 L689.71,61.22 L690.71,61.93 L691.67,62.69 L692.58,63.48 L693.45,64.31 L694.27,65.18 L695.05,66.08 L695.79,67.01 L696.48,67.98 L697.13,68.97 L697.74,70 L698.31,71.05 L698.85,72.12 L699.34,73.22 L699.79,74.34 L700.21,75.48 L700.59,76.64 L700.94,77.82 L701.25,79.01 L701.52,80.21 L701.77,81.43 L701.97,82.66 L702.15,83.89 L702.29,85.13 L702.41,86.38 L702.49,87.63 L702.54,88.89 L702.57,90.14 L702.56,91.39 L702.53,92.65 L702.47,93.89 L702.39,95.13 L702.28,96.37 L702.15,97.59 L701.99,98.8 L701.8,100.01"/>
<path class="ok" d="M655.5,10.8 L629,57.3"/>
<path class="o" d="M655.5,10.8 C656.05,11.23 657.38,12.65 658.8,13.4 C660.22,14.15 662.3,14.22 664,15.3 C665.7,16.38 667.83,17.95 669,19.9 C670.17,21.85 670.33,24.53 671,27 C671.67,29.47 672.03,32.33 673,34.7 C673.97,37.07 675.52,39.58 676.8,41.2 C678.08,42.82 680.05,43.87 680.7,44.4"/>
<path class="o" d="M629,57.3 C630.08,58.05 633.23,60.72 635.5,61.8 C637.77,62.88 640.23,63.8 642.6,63.8 C644.97,63.8 647,62.55 649.7,61.8 C652.4,61.05 656.22,59.62 658.8,59.3 C661.38,58.98 663.27,59.48 665.2,59.9 C667.13,60.32 669.53,61.48 670.4,61.8"/>
<line class="o" x1="665.9" y1="21.1" x2="642.6" y2="61.8"/>
<line class="o" x1="680.3" y1="44.9" x2="670.6" y2="62.3"/>
<line class="o" x1="682.6" y1="48" x2="674.2" y2="62.2"/>
<line class="o" x1="684.5" y1="51.8" x2="678.2" y2="62.3"/>
<line class="c" x1="642.6" y1="34.7" x2="675.6" y2="52.8"/>
<path class="sp" d="M465.35,386.3 L465.35,388.3 L465.35,390.3 L465.35,392.3 L465.35,394.3 L465.35,396.3 L465.35,398.3 L465.35,400.3 L465.35,402.3 L465.36,404.2 L465.41,406.02 L465.52,407.84 L465.67,409.65 L465.88,411.46 L466.14,413.26 L466.45,415.06 L466.81,416.84 L467.22,418.62 L467.68,420.38 L468.19,422.13 L468.75,423.86 L469.36,425.58 L470.01,427.27 L470.72,428.95 L471.47,430.61 L472.27,432.25 L473.11,433.86 L474,435.45 L474.93,437.01 L475.91,438.55 L476.93,440.06 L477.99,441.54 L479.1,442.99 L480.24,444.4 L481.42,445.79 L482.65,447.14 L483.91,448.45 L485.2,449.73 L486.53,450.97 L487.9,452.17 L489.3,453.34 L490.73,454.46 L492.2,455.54 L493.69,456.59 L495.21,457.58 L496.76,458.54 L498.34,459.45 L499.94,460.32 L501.57,461.14 L503.21,461.91 L504.88,462.64 L506.57,463.32 L508.28,463.95 L510.01,464.53 L511.75,465.07 L513.5,465.55 L515.27,465.99 L517.05,466.38 L518.84,466.71 L520.64,467 L522.44,467.23 L524.25,467.41 L526.07,467.54 L527.89,467.62 L529.71,467.65 L531.7,467.65 L533.7,467.65 L535.7,467.65 L537.7,467.65 L539.7,467.65 L541.7,467.65 L543.7,467.65 L545.7,467.65 L547.7,467.65 L549.7,467.65 L551.7,467.65 L553.7,467.65 L555.7,467.65 L557.7,467.65 L559.7,467.65 L561.7,467.65 L563.7,467.65 L565.7,467.65 L567.7,467.65 L569.7,467.65 L571.7,467.65 L573.7,467.65 L575.7,467.65 L577.7,467.65 L579.7,467.65 L581.7,467.65 L583.7,467.65 L585.7,467.65 L587.7,467.65 L589.7,467.65 L591.7,467.65 L593.7,467.65 L595.7,467.65 L597.7,467.65 L599.7,467.65 L601.7,467.65 L603.7,467.65 L605.7,467.65 L607.7,467.65 L609.7,467.65 L611.7,467.65 L613.7,467.65 L615.7,467.65 L617.7,467.65 L619.7,467.65 L621.7,467.65 L623.7,467.65 L625.7,467.65 L627.7,467.65 L629.7,467.65 L631.61,467.64 L633.43,467.59 L635.25,467.49 L637.06,467.34 L638.87,467.13 L640.67,466.87 L642.47,466.57 L644.25,466.21 L646.03,465.8 L647.79,465.34 L649.54,464.84 L651.27,464.28 L652.99,463.67 L654.69,463.02 L656.37,462.32 L658.03,461.57 L659.67,460.77 L661.28,459.93 L662.87,459.05 L664.44,458.11 L665.97,457.14 L667.48,456.12 L668.96,455.06 L670.41,453.96 L671.83,452.82 L673.22,451.64 L674.57,450.42 L675.89,449.16 L677.17,447.86 L678.41,446.53 L679.61,445.17 L680.78,443.77 L681.91,442.34 L682.99,440.88 L684.03,439.38 L685.03,437.86 L685.99,436.31 L686.91,434.74 L687.77,433.14 L688.6,431.51 L689.37,429.87 L690.1,428.2 L690.79,426.51 L691.42,424.81 L692.01,423.08 L692.54,421.34 L693.03,419.59 L693.47,417.82 L693.86,416.04 L694.2,414.25 L694.48,412.45 L694.72,410.65 L694.9,408.84 L695.04,407.02 L695.12,405.2 L695.15,403.38 L695.15,401.4 L695.15,399.4 L695.15,397.4 L695.15,395.4 L695.15,393.4 L695.15,391.4 L695.15,389.4 L695.15,387.4 L695.15,385.4 L695.15,383.4 L695.15,381.4 L695.15,379.4 L695.15,377.4 L695.15,375.4 L695.15,373.4 L695.15,371.4 L695.15,369.4 L695.15,367.4 L695.15,365.4 L695.15,363.4 L695.15,361.4 L695.15,359.4 L695.15,357.4 L695.15,355.4 L695.15,353.4 L695.15,351.4 L695.15,349.4 L695.15,347.4 L695.15,345.4 L695.15,343.4 L695.15,341.4 L695.15,339.4 L695.15,337.4 L695.15,335.4 L695.15,333.4 L695.15,331.4 L695.15,329.4 L695.15,327.4 L695.15,325.4 L695.15,323.4 L695.15,321.4 L695.15,319.4 L695.15,317.4 L695.15,315.4 L695.15,313.4 L695.15,311.4 L695.15,309.4 L695.15,307.4 L695.15,305.4 L695.15,303.4 L695.15,301.4 L695.15,299.4 L695.15,297.4 L695.15,295.4 L695.15,293.4 L695.15,291.4 L695.15,289.4 L695.15,287.4 L695.15,285.4 L695.15,283.4 L695.15,281.4 L695.15,279.4 L695.15,277.4 L695.15,275.4 L695.15,273.4 L695.15,271.4 L695.15,269.4 L695.15,267.4 L695.15,265.4 L695.15,263.4 L695.15,261.4 L695.15,259.4"/>
<path class="sp" d="M452.65,386.3 L452.65,388.3 L452.65,390.3 L452.65,392.3 L452.65,394.3 L452.65,396.3 L452.65,398.3 L452.65,400.3 L452.65,402.3 L452.66,404.4 L452.72,406.58 L452.85,408.75 L453.04,410.92 L453.29,413.09 L453.6,415.25 L453.97,417.4 L454.4,419.53 L454.89,421.66 L455.44,423.76 L456.05,425.86 L456.72,427.93 L457.45,429.98 L458.23,432.02 L459.08,434.03 L459.98,436.01 L460.93,437.97 L461.94,439.9 L463,441.81 L464.12,443.68 L465.29,445.52 L466.51,447.32 L467.78,449.09 L469.11,450.83 L470.47,452.52 L471.89,454.18 L473.35,455.79 L474.86,457.37 L476.41,458.9 L478.01,460.38 L479.65,461.82 L481.32,463.22 L483.04,464.56 L484.79,465.86 L486.58,467.1 L488.4,468.3 L490.25,469.44 L492.14,470.53 L494.06,471.57 L496,472.55 L497.98,473.48 L499.97,474.35 L502,475.17 L504.04,475.92 L506.1,476.62 L508.19,477.26 L510.29,477.84 L512.4,478.36 L514.54,478.82 L516.68,479.23 L518.83,479.57 L520.99,479.85 L523.16,480.06 L525.33,480.22 L527.51,480.32 L529.69,480.35 L531.7,480.35 L533.7,480.35 L535.7,480.35 L537.7,480.35 L539.7,480.35 L541.7,480.35 L543.7,480.35 L545.7,480.35 L547.7,480.35 L549.7,480.35 L551.7,480.35 L553.7,480.35 L555.7,480.35 L557.7,480.35 L559.7,480.35 L561.7,480.35 L563.7,480.35 L565.7,480.35 L567.7,480.35 L569.7,480.35 L571.7,480.35 L573.7,480.35 L575.7,480.35 L577.7,480.35 L579.7,480.35 L581.7,480.35 L583.7,480.35 L585.7,480.35 L587.7,480.35 L589.7,480.35 L591.7,480.35 L593.7,480.35 L595.7,480.35 L597.7,480.35 L599.7,480.35 L601.7,480.35 L603.7,480.35 L605.7,480.35 L607.7,480.35 L609.7,480.35 L611.7,480.35 L613.7,480.35 L615.7,480.35 L617.7,480.35 L619.7,480.35 L621.7,480.35 L623.7,480.35 L625.7,480.35 L627.7,480.35 L629.7,480.35 L631.79,480.34 L633.97,480.28 L636.14,480.16 L638.32,479.97 L640.48,479.73 L642.64,479.42 L644.79,479.05 L646.93,478.62 L649.05,478.14 L651.16,477.59 L653.25,476.98 L655.33,476.31 L657.38,475.59 L659.42,474.81 L661.43,473.97 L663.41,473.07 L665.38,472.12 L667.31,471.11 L669.21,470.05 L671.09,468.94 L672.93,467.77 L674.73,466.55 L676.5,465.28 L678.24,463.96 L679.94,462.6 L681.6,461.18 L683.21,459.72 L684.79,458.21 L686.32,456.66 L687.81,455.07 L689.25,453.44 L690.65,451.76 L692,450.05 L693.29,448.3 L694.54,446.51 L695.74,444.69 L696.89,442.84 L697.98,440.95 L699.02,439.04 L700.01,437.09 L700.94,435.12 L701.81,433.13 L702.63,431.11 L703.39,429.06 L704.09,427 L704.73,424.92 L705.31,422.82 L705.84,420.7 L706.3,418.57 L706.71,416.43 L707.05,414.28 L707.33,412.12 L707.55,409.95 L707.71,407.77 L707.81,405.6 L707.85,403.42 L707.85,401.4 L707.85,399.4 L707.85,397.4 L707.85,395.4 L707.85,393.4 L707.85,391.4 L707.85,389.4 L707.85,387.4 L707.85,385.4 L707.85,383.4 L707.85,381.4 L707.85,379.4 L707.85,377.4 L707.85,375.4 L707.85,373.4 L707.85,371.4 L707.85,369.4 L707.85,367.4 L707.85,365.4 L707.85,363.4 L707.85,361.4 L707.85,359.4 L707.85,357.4 L707.85,355.4 L707.85,353.4 L707.85,351.4 L707.85,349.4 L707.85,347.4 L707.85,345.4 L707.85,343.4 L707.85,341.4 L707.85,339.4 L707.85,337.4 L707.85,335.4 L707.85,333.4 L707.85,331.4 L707.85,329.4 L707.85,327.4 L707.85,325.4 L707.85,323.4 L707.85,321.4 L707.85,319.4 L707.85,317.4 L707.85,315.4 L707.85,313.4 L707.85,311.4 L707.85,309.4 L707.85,307.4 L707.85,305.4 L707.85,303.4 L707.85,301.4 L707.85,299.4 L707.85,297.4 L707.85,295.4 L707.85,293.4 L707.85,291.4 L707.85,289.4 L707.85,287.4 L707.85,285.4 L707.85,283.4 L707.85,281.4 L707.85,279.4 L707.85,277.4 L707.85,275.4 L707.85,273.4 L707.85,271.4 L707.85,269.4 L707.85,267.4 L707.85,265.4 L707.85,263.4 L707.85,261.4 L707.85,259.4"/>
<path class="c" d="M459,386.3 L459,388.3 L459,390.3 L459,392.3 L459,394.3 L459,396.3 L459,398.3 L459,400.3 L459,402.3 L459.01,404.3 L459.07,406.3 L459.18,408.3 L459.36,410.29 L459.58,412.28 L459.87,414.26 L460.21,416.23 L460.6,418.19 L461.06,420.14 L461.56,422.07 L462.12,423.99 L462.74,425.89 L463.4,427.78 L464.12,429.65 L464.9,431.49 L465.72,433.31 L466.6,435.11 L467.53,436.88 L468.5,438.63 L469.53,440.35 L470.6,442.03 L471.72,443.69 L472.89,445.32 L474.1,446.91 L475.36,448.46 L476.66,449.98 L478,451.46 L479.38,452.91 L480.81,454.31 L482.27,455.68 L483.77,457 L485.31,458.28 L486.89,459.51 L488.49,460.7 L490.13,461.84 L491.81,462.94 L493.51,463.99 L495.24,464.99 L497,465.94 L498.79,466.85 L500.6,467.7 L502.43,468.5 L504.28,469.24 L506.16,469.94 L508.05,470.58 L509.97,471.17 L511.89,471.7 L513.84,472.18 L515.79,472.6 L517.76,472.97 L519.73,473.28 L521.72,473.54 L523.71,473.74 L525.7,473.88 L527.7,473.97 L529.7,474 L531.7,474 L533.7,474 L535.7,474 L537.7,474 L539.7,474 L541.7,474 L543.7,474 L545.7,474 L547.7,474 L549.7,474 L551.7,474 L553.7,474 L555.7,474 L557.7,474 L559.7,474 L561.7,474 L563.7,474 L565.7,474 L567.7,474 L569.7,474 L571.7,474 L573.7,474 L575.7,474 L577.7,474 L579.7,474 L581.7,474 L583.7,474 L585.7,474 L587.7,474 L589.7,474 L591.7,474 L593.7,474 L595.7,474 L597.7,474 L599.7,474 L601.7,474 L603.7,474 L605.7,474 L607.7,474 L609.7,474 L611.7,474 L613.7,474 L615.7,474 L617.7,474 L619.7,474 L621.7,474 L623.7,474 L625.7,474 L627.7,474 L629.7,474 L631.7,473.99 L633.7,473.94 L635.7,473.82 L637.69,473.65 L639.68,473.43 L641.66,473.15 L643.63,472.81 L645.59,472.42 L647.54,471.97 L649.47,471.47 L651.4,470.91 L653.3,470.3 L655.19,469.63 L657.05,468.91 L658.9,468.14 L660.72,467.32 L662.52,466.45 L664.3,465.52 L666.04,464.55 L667.76,463.53 L669.45,462.45 L671.11,461.34 L672.73,460.17 L674.33,458.96 L675.89,457.71 L677.41,456.41 L678.89,455.07 L680.34,453.69 L681.74,452.26 L683.11,450.8 L684.43,449.3 L685.71,447.77 L686.95,446.19 L688.14,444.59 L689.29,442.95 L690.39,441.28 L691.44,439.58 L692.44,437.85 L693.4,436.09 L694.3,434.3 L695.15,432.5 L695.96,430.66 L696.71,428.81 L697.4,426.93 L698.05,425.04 L698.64,423.13 L699.17,421.2 L699.65,419.26 L700.08,417.31 L700.45,415.34 L700.77,413.37 L701.03,411.38 L701.23,409.39 L701.38,407.4 L701.47,405.4 L701.5,403.4 L701.5,401.4 L701.5,399.4 L701.5,397.4 L701.5,395.4 L701.5,393.4 L701.5,391.4 L701.5,389.4 L701.5,387.4 L701.5,385.4 L701.5,383.4 L701.5,381.4 L701.5,379.4 L701.5,377.4 L701.5,375.4 L701.5,373.4 L701.5,371.4 L701.5,369.4 L701.5,367.4 L701.5,365.4 L701.5,363.4 L701.5,361.4 L701.5,359.4 L701.5,357.4 L701.5,355.4 L701.5,353.4 L701.5,351.4 L701.5,349.4 L701.5,347.4 L701.5,345.4 L701.5,343.4 L701.5,341.4 L701.5,339.4 L701.5,337.4 L701.5,335.4 L701.5,333.4 L701.5,331.4 L701.5,329.4 L701.5,327.4 L701.5,325.4 L701.5,323.4 L701.5,321.4 L701.5,319.4 L701.5,317.4 L701.5,315.4 L701.5,313.4 L701.5,311.4 L701.5,309.4 L701.5,307.4 L701.5,305.4 L701.5,303.4 L701.5,301.4 L701.5,299.4 L701.5,297.4 L701.5,295.4 L701.5,293.4 L701.5,291.4 L701.5,289.4 L701.5,287.4 L701.5,285.4 L701.5,283.4 L701.5,281.4 L701.5,279.4 L701.5,277.4 L701.5,275.4 L701.5,273.4 L701.5,271.4 L701.5,269.4 L701.5,267.4 L701.5,265.4 L701.5,263.4 L701.5,261.4 L701.5,259.4"/>
<path class="sp" d="M465.35,386.4 L452.65,390.2 L465.35,394 L452.65,397.8 L465.35,401.6 L452.69,405.6 L465.57,408.47 L453.34,413.52 L466.47,415.15 L454.81,421.34 L468.03,421.6 L457.11,429.06 L470.26,427.86 L460.16,436.41 L473.15,433.94 L463.95,443.4 L476.62,439.61 L468.44,449.96 L480.65,444.89 L473.65,456.11 L485.2,449.73 L479.4,461.61 L490.3,454.13 L485.68,466.49 L495.75,457.92 L492.52,470.75 L501.57,461.14 L499.67,474.22 L507.77,463.77 L507.14,476.95 L514.12,465.71 L514.96,478.91 L520.64,467 L522.83,480.03 L527.34,467.6 L530.7,480.35 L534.4,467.65 L538,480.35 L541.7,467.65 L545.4,480.35 L549,467.65 L552.7,480.35 L556.4,467.65 L560,480.35 L563.7,467.65"/>
<path class="sp" d="M566.1,467.65 L569.8,480.35 L573.5,467.65 L577.1,480.35 L580.8,467.65 L584.4,480.35 L588.1,467.65 L591.8,480.35 L595.4,467.65 L599.1,480.35 L602.8,467.65 L606.4,480.35 L610.1,467.65 L613.8,480.35 L617.4,467.65 L621.1,480.35 L624.8,467.65 L628.4,480.35 L631.97,467.64 L636.36,480.14 L638.78,467.14 L644.47,479.11 L645.5,465.93 L652.42,477.23 L652.05,464.01 L660.12,474.52 L658.36,461.41 L667.5,471.01 L664.36,458.16 L674.46,466.74 L669.98,454.29 L680.94,461.75 L675.17,449.85 L686.85,456.11 L679.85,444.89 L692.13,449.88 L683.98,439.46 L696.72,443.12 L687.52,433.62 L700.57,435.91 L690.42,427.44 L703.64,428.34 L692.65,420.99 L705.89,420.49 L694.18,414.34 L707.29,412.44 L695,407.57 L707.84,404.29 L695.15,400.3 L707.85,396.2 L695.15,392.2 L707.85,388.1 L695.15,384.1 L707.85,380 L695.15,376 L707.85,371.9 L695.15,367.9 L707.85,363.8 L695.15,359.8 L707.85,355.7 L695.15,351.7 L707.85,347.6 L695.15,343.6 L707.85,339.5 L695.15,335.5 L707.85,331.4 L695.15,327.4 L707.85,323.3 L695.15,319.3 L707.85,315.2 L695.15,311.2 L707.85,307.1 L695.15,303.1 L707.85,299 L695.15,295 L707.85,290.9 L695.15,286.9 L707.85,282.8 L695.15,278.8 L707.85,274.7 L695.15,270.7 L707.85,266.6 L695.15,262.6"/>
<path fill="#000" d="M465.5,386.4 a1.3,1.3 0 1 0 0.01,0 Z M452.5,390.2 a1.3,1.3 0 1 0 0.01,0 Z M465.5,394 a1.3,1.3 0 1 0 0.01,0 Z M452.5,397.8 a1.3,1.3 0 1 0 0.01,0 Z M465.5,401.6 a1.3,1.3 0 1 0 0.01,0 Z M452.54,405.6 a1.3,1.3 0 1 0 0.01,0 Z M465.72,408.46 a1.3,1.3 0 1 0 0.01,0 Z M453.19,413.54 a1.3,1.3 0 1 0 0.01,0 Z M466.61,415.12 a1.3,1.3 0 1 0 0.01,0 Z M454.67,421.37 a1.3,1.3 0 1 0 0.01,0 Z M468.18,421.56 a1.3,1.3 0 1 0 0.01,0 Z M456.97,429.11 a1.3,1.3 0 1 0 0.01,0 Z M470.39,427.81 a1.3,1.3 0 1 0 0.01,0 Z M460.03,436.47 a1.3,1.3 0 1 0 0.01,0 Z M473.29,433.87 a1.3,1.3 0 1 0 0.01,0 Z M463.82,443.48 a1.3,1.3 0 1 0 0.01,0 Z M476.74,439.53 a1.3,1.3 0 1 0 0.01,0 Z M468.32,450.05 a1.3,1.3 0 1 0 0.01,0 Z M480.76,444.79 a1.3,1.3 0 1 0 0.01,0 Z M473.54,456.21 a1.3,1.3 0 1 0 0.01,0 Z M485.31,449.62 a1.3,1.3 0 1 0 0.01,0 Z M479.3,461.72 a1.3,1.3 0 1 0 0.01,0 Z M490.39,454.01 a1.3,1.3 0 1 0 0.01,0 Z M485.59,466.61 a1.3,1.3 0 1 0 0.01,0 Z M495.83,457.8 a1.3,1.3 0 1 0 0.01,0 Z M492.45,470.88 a1.3,1.3 0 1 0 0.01,0 Z M501.63,461 a1.3,1.3 0 1 0 0.01,0 Z M499.61,474.36 a1.3,1.3 0 1 0 0.01,0 Z M507.82,463.63 a1.3,1.3 0 1 0 0.01,0 Z M507.1,477.09 a1.3,1.3 0 1 0 0.01,0 Z M514.15,465.57 a1.3,1.3 0 1 0 0.01,0 Z M514.93,479.06 a1.3,1.3 0 1 0 0.01,0 Z M520.66,466.85 a1.3,1.3 0 1 0 0.01,0 Z M522.82,480.18 a1.3,1.3 0 1 0 0.01,0 Z M527.35,467.45 a1.3,1.3 0 1 0 0.01,0 Z M530.7,480.5 a1.3,1.3 0 1 0 0.01,0 Z M534.4,467.5 a1.3,1.3 0 1 0 0.01,0 Z M538,480.5 a1.3,1.3 0 1 0 0.01,0 Z M541.7,467.5 a1.3,1.3 0 1 0 0.01,0 Z M545.4,480.5 a1.3,1.3 0 1 0 0.01,0 Z M549,467.5 a1.3,1.3 0 1 0 0.01,0 Z M552.7,480.5 a1.3,1.3 0 1 0 0.01,0 Z M556.4,467.5 a1.3,1.3 0 1 0 0.01,0 Z M560,480.5 a1.3,1.3 0 1 0 0.01,0 Z M563.7,467.5 a1.3,1.3 0 1 0 0.01,0 Z M566.1,467.5 a1.3,1.3 0 1 0 0.01,0 Z M569.8,480.5 a1.3,1.3 0 1 0 0.01,0 Z M573.5,467.5 a1.3,1.3 0 1 0 0.01,0 Z M577.1,480.5 a1.3,1.3 0 1 0 0.01,0 Z M580.8,467.5 a1.3,1.3 0 1 0 0.01,0 Z M584.4,480.5 a1.3,1.3 0 1 0 0.01,0 Z M588.1,467.5 a1.3,1.3 0 1 0 0.01,0 Z M591.8,480.5 a1.3,1.3 0 1 0 0.01,0 Z M595.4,467.5 a1.3,1.3 0 1 0 0.01,0 Z M599.1,480.5 a1.3,1.3 0 1 0 0.01,0 Z M602.8,467.5 a1.3,1.3 0 1 0 0.01,0 Z M606.4,480.5 a1.3,1.3 0 1 0 0.01,0 Z M610.1,467.5 a1.3,1.3 0 1 0 0.01,0 Z M613.8,480.5 a1.3,1.3 0 1 0 0.01,0 Z M617.4,467.5 a1.3,1.3 0 1 0 0.01,0 Z M621.1,480.5 a1.3,1.3 0 1 0 0.01,0 Z M624.8,467.5 a1.3,1.3 0 1 0 0.01,0 Z M628.4,480.5 a1.3,1.3 0 1 0 0.01,0 Z M631.97,467.49 a1.3,1.3 0 1 0 0.01,0 Z M636.37,480.29 a1.3,1.3 0 1 0 0.01,0 Z M638.76,466.99 a1.3,1.3 0 1 0 0.01,0 Z M644.49,479.26 a1.3,1.3 0 1 0 0.01,0 Z M645.46,465.78 a1.3,1.3 0 1 0 0.01,0 Z M652.46,477.37 a1.3,1.3 0 1 0 0.01,0 Z M652,463.87 a1.3,1.3 0 1 0 0.01,0 Z M660.18,474.66 a1.3,1.3 0 1 0 0.01,0 Z M658.29,461.28 a1.3,1.3 0 1 0 0.01,0 Z M667.57,471.14 a1.3,1.3 0 1 0 0.01,0 Z M664.28,458.03 a1.3,1.3 0 1 0 0.01,0 Z M674.55,466.86 a1.3,1.3 0 1 0 0.01,0 Z M669.89,454.18 a1.3,1.3 0 1 0 0.01,0 Z M681.04,461.87 a1.3,1.3 0 1 0 0.01,0 Z M675.06,449.75 a1.3,1.3 0 1 0 0.01,0 Z M686.96,456.21 a1.3,1.3 0 1 0 0.01,0 Z M679.74,444.79 a1.3,1.3 0 1 0 0.01,0 Z M692.25,449.97 a1.3,1.3 0 1 0 0.01,0 Z M683.86,439.38 a1.3,1.3 0 1 0 0.01,0 Z M696.85,443.2 a1.3,1.3 0 1 0 0.01,0 Z M687.39,433.55 a1.3,1.3 0 1 0 0.01,0 Z M700.71,435.98 a1.3,1.3 0 1 0 0.01,0 Z M690.28,427.39 a1.3,1.3 0 1 0 0.01,0 Z M703.78,428.39 a1.3,1.3 0 1 0 0.01,0 Z M692.5,420.95 a1.3,1.3 0 1 0 0.01,0 Z M706.03,420.52 a1.3,1.3 0 1 0 0.01,0 Z M694.03,414.32 a1.3,1.3 0 1 0 0.01,0 Z M707.44,412.46 a1.3,1.3 0 1 0 0.01,0 Z M694.85,407.56 a1.3,1.3 0 1 0 0.01,0 Z M707.99,404.29 a1.3,1.3 0 1 0 0.01,0 Z M695,400.3 a1.3,1.3 0 1 0 0.01,0 Z M708,396.2 a1.3,1.3 0 1 0 0.01,0 Z M695,392.2 a1.3,1.3 0 1 0 0.01,0 Z M708,388.1 a1.3,1.3 0 1 0 0.01,0 Z M695,384.1 a1.3,1.3 0 1 0 0.01,0 Z M708,380 a1.3,1.3 0 1 0 0.01,0 Z M695,376 a1.3,1.3 0 1 0 0.01,0 Z M708,371.9 a1.3,1.3 0 1 0 0.01,0 Z M695,367.9 a1.3,1.3 0 1 0 0.01,0 Z M708,363.8 a1.3,1.3 0 1 0 0.01,0 Z M695,359.8 a1.3,1.3 0 1 0 0.01,0 Z M708,355.7 a1.3,1.3 0 1 0 0.01,0 Z M695,351.7 a1.3,1.3 0 1 0 0.01,0 Z M708,347.6 a1.3,1.3 0 1 0 0.01,0 Z M695,343.6 a1.3,1.3 0 1 0 0.01,0 Z M708,339.5 a1.3,1.3 0 1 0 0.01,0 Z M695,335.5 a1.3,1.3 0 1 0 0.01,0 Z M708,331.4 a1.3,1.3 0 1 0 0.01,0 Z M695,327.4 a1.3,1.3 0 1 0 0.01,0 Z M708,323.3 a1.3,1.3 0 1 0 0.01,0 Z M695,319.3 a1.3,1.3 0 1 0 0.01,0 Z M708,315.2 a1.3,1.3 0 1 0 0.01,0 Z M695,311.2 a1.3,1.3 0 1 0 0.01,0 Z M708,307.1 a1.3,1.3 0 1 0 0.01,0 Z M695,303.1 a1.3,1.3 0 1 0 0.01,0 Z M708,299 a1.3,1.3 0 1 0 0.01,0 Z M695,295 a1.3,1.3 0 1 0 0.01,0 Z M708,290.9 a1.3,1.3 0 1 0 0.01,0 Z M695,286.9 a1.3,1.3 0 1 0 0.01,0 Z M708,282.8 a1.3,1.3 0 1 0 0.01,0 Z M695,278.8 a1.3,1.3 0 1 0 0.01,0 Z M708,274.7 a1.3,1.3 0 1 0 0.01,0 Z M695,270.7 a1.3,1.3 0 1 0 0.01,0 Z M708,266.6 a1.3,1.3 0 1 0 0.01,0 Z M695,262.6 a1.3,1.3 0 1 0 0.01,0 Z"/>
<rect x="563.2" y="465" width="4.5" height="18" fill="#fff"/>
<line class="t" x1="564.2" y1="466" x2="564.2" y2="482.5"/>
<line class="t" x1="566.7" y1="466" x2="566.7" y2="482.5"/>
<line class="d" x1="385.2" y1="55.5" x2="541" y2="55.5"/>
<line class="d" x1="385.5" y1="201.2" x2="425.4" y2="201.2"/>
<line class="d" x1="387.4" y1="55.5" x2="387.4" y2="201.2"/>
<path class="ar" d="M387.4,55.5 L388.8,62 L386,62 Z"/>
<path class="ar" d="M387.4,201.2 L386,194.7 L388.8,194.7 Z"/>
<line class="d" x1="425.4" y1="141" x2="655" y2="141"/>
<line class="d" x1="655" y1="102.3" x2="655" y2="143.5"/>
<line class="d" x1="425.4" y1="139" x2="425.4" y2="201.3"/>
<path class="ar" d="M425.4,141 L431.9,139.6 L431.9,142.4 Z"/>
<path class="ar" d="M655,141 L648.5,142.4 L648.5,139.6 Z"/>
<line class="d" x1="491" y1="271.7" x2="510.4" y2="271.7"/>
<line class="d" x1="469.7" y1="386.3" x2="510.4" y2="386.3"/>
<line class="d" x1="508.5" y1="271.7" x2="508.5" y2="386.3"/>
<path class="ar" d="M508.5,271.7 L509.9,278.2 L507.1,278.2 Z"/>
<path class="ar" d="M508.5,386.3 L507.1,379.8 L509.9,379.8 Z"/>
<line class="d" x1="113.5" y1="208" x2="140.5" y2="208"/>
<line class="d" x1="331" y1="208.1" x2="357.6" y2="208.1"/>
<line class="d" x1="501.3" y1="209.3" x2="543.4" y2="209.3"/>
<line class="d" x1="743.8" y1="208.9" x2="781" y2="208.9"/>
<path class="g" transform="translate(102.5,186.6) scale(0.9,1)" d="M5.1,4.2 C2.2,4.2 0.3,7 0.3,10.6 C0.3,14.2 2.2,17 5.1,17 C8,17 9.9,14.2 9.9,10.6 C9.9,7 8,4.2 5.1,4.2 Z M8.2,1.6 L2.4,19"/>
<path class="g" transform="translate(115,186.6) scale(0.9,1)" d="M0.4,4.6 C0.9,1.6 2.7,0 5.1,0 C7.9,0 9.7,2 9.7,4.9 C9.7,7.6 8.3,9.6 0.2,19 L10,19"/>
<path class="g" transform="translate(128.5,186.6) scale(0.9,1)" d="M0,0 L10,0 L3.2,19"/>
<path class="g" transform="translate(320.1,186.6) scale(0.9,1)" d="M5.1,4.2 C2.2,4.2 0.3,7 0.3,10.6 C0.3,14.2 2.2,17 5.1,17 C8,17 9.9,14.2 9.9,10.6 C9.9,7 8,4.2 5.1,4.2 Z M8.2,1.6 L2.4,19"/>
<path class="g" transform="translate(333.1,186.6) scale(0.9,1)" d="M0.4,4.6 C0.9,1.6 2.7,0 5.1,0 C7.9,0 9.7,2 9.7,4.9 C9.7,7.6 8.3,9.6 0.2,19 L10,19"/>
<path class="g" transform="translate(346.5,186.6) scale(0.9,1)" d="M0,0 L10,0 L3.2,19"/>
<path class="g" transform="translate(505.6,187.5) scale(0.9,1)" d="M5.1,4.2 C2.2,4.2 0.3,7 0.3,10.6 C0.3,14.2 2.2,17 5.1,17 C8,17 9.9,14.2 9.9,10.6 C9.9,7 8,4.2 5.1,4.2 Z M8.2,1.6 L2.4,19"/>
<path class="g" transform="translate(518.4,187.5) scale(0.9,1)" d="M0.4,4.6 C0.9,1.6 2.7,0 5.1,0 C7.9,0 9.7,2 9.7,4.9 C9.7,7.6 8.3,9.6 0.2,19 L10,19"/>
<path class="g" transform="translate(531.5,187.5) scale(0.9,1)" d="M5,0 C2.6,0 0.9,1.8 0.9,4.4 C0.9,7 2.6,8.6 5,8.6 C7.4,8.6 9.1,7 9.1,4.4 C9.1,1.8 7.4,0 5,0 Z M5,8.6 C2,8.6 0,10.6 0,13.8 C0,17 2,19 5,19 C8,19 10,17 10,13.8 C10,10.6 8,8.6 5,8.6 Z"/>
<path class="g" transform="translate(743.4,187.8) scale(0.9,1)" d="M5.1,4.2 C2.2,4.2 0.3,7 0.3,10.6 C0.3,14.2 2.2,17 5.1,17 C8,17 9.9,14.2 9.9,10.6 C9.9,7 8,4.2 5.1,4.2 Z M8.2,1.6 L2.4,19"/>
<path class="g" transform="translate(755.8,187.8) scale(0.9,1)" d="M0.6,0 L9.6,0 L4.2,7.9 C8,7.9 10,10.2 10,13.4 C10,16.9 7.9,19 5,19 C2.6,19 0.9,17.9 0,16.2"/>
<path class="g" transform="translate(768.9,187.8) scale(0.9,1)" d="M9.4,0 L1.6,0 L0.9,8.6 C2.1,7.8 3.4,7.4 5,7.4 C8.1,7.4 10,9.7 10,13.1 C10,16.7 7.9,19 5,19 C2.6,19 0.9,17.9 0,16.2"/>
<path class="g" transform="translate(512.8,119.8) scale(0.9,0.98)" d="M0.4,4.6 C0.9,1.6 2.7,0 5.1,0 C7.9,0 9.7,2 9.7,4.9 C9.7,7.6 8.3,9.6 0.2,19 L10,19"/>
<path class="g" transform="translate(526,119.8) scale(0.9,0.98)" d="M9.4,0 L1.6,0 L0.9,8.6 C2.1,7.8 3.4,7.4 5,7.4 C8.1,7.4 10,9.7 10,13.1 C10,16.7 7.9,19 5,19 C2.6,19 0.9,17.9 0,16.2"/>
<path class="g" transform="translate(538.8,119.8) scale(0.9,0.98)" d="M5,0 C1.6,0 0,4.3 0,9.5 C0,14.7 1.6,19 5,19 C8.4,19 10,14.7 10,9.5 C10,4.3 8.4,0 5,0 Z"/>
<g transform="translate(385.2,147.5) rotate(-90)">
<path class="g" transform="translate(0.5,-19) scale(0.9,1)" d="M2.2,4.2 L6.6,0 L6.6,19"/>
<path class="g" transform="translate(14,-19) scale(0.9,1)" d="M9.2,2.3 C8.3,0.8 6.9,0 5.1,0 C1.6,0 0,4.4 0,10.6 C0,16 1.9,19 5,19 C8.1,19 10,16.7 10,13.4 C10,10.1 8.1,7.9 5.1,7.9 C2.6,7.9 0.7,9.4 0,11.8"/>
<path class="g" transform="translate(26.4,-19) scale(0.9,1)" d="M5,0 C1.6,0 0,4.3 0,9.5 C0,14.7 1.6,19 5,19 C8.4,19 10,14.7 10,9.5 C10,4.3 8.4,0 5,0 Z"/>
</g>
<g transform="translate(506.2,347.2) rotate(-90)">
<path class="g" transform="translate(0.5,-19) scale(0.9,1)" d="M9.2,2.3 C8.3,0.8 6.9,0 5.1,0 C1.6,0 0,4.4 0,10.6 C0,16 1.9,19 5,19 C8.1,19 10,16.7 10,13.4 C10,10.1 8.1,7.9 5.1,7.9 C2.6,7.9 0.7,9.4 0,11.8"/>
<path class="g" transform="translate(12.7,-19) scale(0.9,1)" d="M0.6,0 L9.6,0 L4.2,7.9 C8,7.9 10,10.2 10,13.4 C10,16.9 7.9,19 5,19 C2.6,19 0.9,17.9 0,16.2"/>
<path class="g" transform="translate(26.9,-19) scale(0.9,1)" d="M5,0 C1.6,0 0,4.3 0,9.5 C0,14.7 1.6,19 5,19 C8.4,19 10,14.7 10,9.5 C10,4.3 8.4,0 5,0 Z"/>
</g>
<text class="lt" transform="translate(724.3,371.5) rotate(-90)" textLength="39.3" lengthAdjust="spacingAndGlyphs">L=2000</text>
<line class="d" x1="69.4" y1="416.1" x2="110.2" y2="446.3"/>
<path class="ar" d="M69.4,416.1 L80.07,421.01 L77.22,424.87 Z"/>
<line class="d" x1="269.7" y1="416.3" x2="229.3" y2="445.8"/>
<path class="ar" d="M269.7,416.3 L261.83,425.02 L259,421.14 Z"/>
<text class="nt" transform="translate(124.8,440) scale(0.76,1)" textLength="37.11" lengthAdjust="spacing">PŘIVOD</text>
<text class="nt" transform="translate(159.3,440) scale(0.76,1)" textLength="84.47" lengthAdjust="spacing">TEPLÁ/STUDENÁ</text>
<text class="nt" transform="translate(124.8,449.8) scale(0.76,1)" textLength="27.24" lengthAdjust="spacing">INLET</text>
<text class="nt" transform="translate(151.8,449.8) scale(0.76,1)" textLength="55.79" lengthAdjust="spacing">HOT/COLD</text>
<text class="nt" transform="translate(124.9,460.4) scale(0.76,1)" textLength="28.16" lengthAdjust="spacing">ВХОД</text>
<text class="nt" transform="translate(151.5,460.4) scale(0.66,1)" textLength="88.99" lengthAdjust="spacing">ТЁПЛАЯ/ХОЛОДНАЯ</text>
<text class="nt" transform="translate(124.9,469.4) scale(1,1)" textLength="20.5" lengthAdjust="spacing">3/8"</text>
<text class="nt" transform="translate(152.4,469.4) scale(1,1)" textLength="7" lengthAdjust="spacing">–</text>
<text class="nt" transform="translate(162,469.4) scale(1,1)" textLength="24.5" lengthAdjust="spacing">xxx.0,</text>
<text class="nt" transform="translate(191.8,469.4) scale(1,1)" textLength="20.2" lengthAdjust="spacing">1/2"</text>
<text class="nt" transform="translate(219,469.4) scale(1,1)" textLength="7" lengthAdjust="spacing">–</text>
<text class="nt" transform="translate(229.5,469.4) scale(1,1)" textLength="21" lengthAdjust="spacing">xxx.5</text>
</svg></body></html>
